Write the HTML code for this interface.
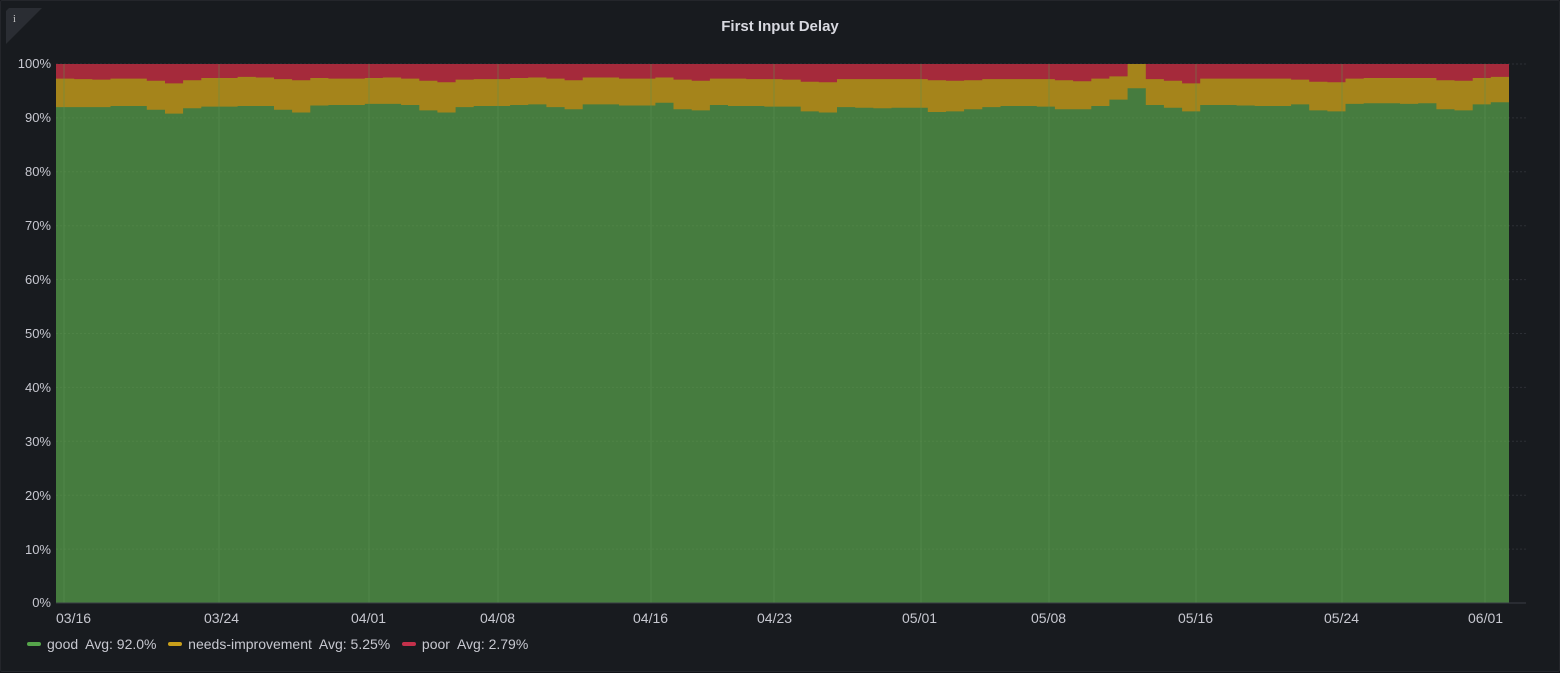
<!DOCTYPE html><html><head><style>
html,body{margin:0;padding:0;background:#111217;}
#p{position:absolute;left:0;top:0;width:1558px;height:670px;background:#181b1f;border:1px solid #24262b;border-radius:2px;font-family:"Liberation Sans",sans-serif;color:#ccccdc;}
.t{position:absolute;top:17px;left:0;width:1558px;text-align:center;font-size:15px;font-weight:bold;color:#d8d9e0;}
.y{position:absolute;left:0;width:50px;text-align:right;font-size:13px;color:#c7c8d0;}
.x{position:absolute;top:609px;font-size:14px;color:#c7c8d0;}
.lg{position:absolute;top:635px;font-size:14px;color:#c7c8d0;white-space:nowrap;}
.sw{display:inline-block;width:14px;height:4px;border-radius:2px;vertical-align:middle;margin-right:6px;margin-top:-2px;}
</style></head><body><div id="p">
<svg style="position:absolute;left:5px;top:7px" width="36" height="36"><path d="M3 0H36L0 36V3Z" fill="#2a2d33"/><text x="7" y="14" font-size="10" fill="#ccc" font-family="Liberation Serif">i</text></svg>
<div class="t">First Input Delay</div>
<svg id="c" style="position:absolute;left:0;top:0" width="1560" height="672"></svg>
<div class="y" style="top:55px">100%</div><div class="y" style="top:109px">90%</div><div class="y" style="top:163px">80%</div><div class="y" style="top:217px">70%</div><div class="y" style="top:271px">60%</div><div class="y" style="top:325px">50%</div><div class="y" style="top:379px">40%</div><div class="y" style="top:433px">30%</div><div class="y" style="top:487px">20%</div><div class="y" style="top:541px">10%</div><div class="y" style="top:594px">0%</div>
<div class="x" style="left:55px">03/16</div><div class="x" style="left:203px">03/24</div><div class="x" style="left:350px">04/01</div><div class="x" style="left:479px">04/08</div><div class="x" style="left:632px">04/16</div><div class="x" style="left:756px">04/23</div><div class="x" style="left:901px">05/01</div><div class="x" style="left:1030px">05/08</div><div class="x" style="left:1177px">05/16</div><div class="x" style="left:1323px">05/24</div><div class="x" style="left:1467px">06/01</div>
<div class="lg" style="left:26px"><span class="sw" style="background:#56a64b"></span>good&nbsp; Avg: 92.0% &nbsp;&nbsp;<span class="sw" style="background:#c9a01b"></span>needs-improvement&nbsp; Avg: 5.25% &nbsp;&nbsp;<span class="sw" style="background:#c4314b"></span>poor&nbsp; Avg: 2.79%</div>
</div>
<script>
var s=document.getElementById('c'),L=55,R=1508,T=63,B=602,h='';
function Y(v){return B-(B-T)*v/100;}
for(var i=0;i<=10;i++){var y=Y(i*10);h+='<line x1="'+L+'" x2="1525" y1="'+y+'" y2="'+y+'" stroke="#2c2f35" stroke-dasharray="2,2"/>';}
var g=[92,92,92,92.2,92.2,91.5,90.8,91.8,92.1,92.1,92.2,92.2,91.5,91,92.3,92.4,92.4,92.6,92.6,92.4,91.4,91,92,92.2,92.2,92.4,92.5,92,91.6,92.5,92.5,92.3,92.3,92.8,91.6,91.4,92.4,92.2,92.2,92.1,92.1,91.2,91,92,91.9,91.8,91.9,91.9,91.1,91.2,91.6,92,92.2,92.2,92.1,91.6,91.6,92.2,93.4,95.5,92.4,91.9,91.2,92.4,92.4,92.3,92.2,92.2,92.5,91.4,91.2,92.6,92.7,92.7,92.6,92.7,91.6,91.4,92.5,92.9];
var yv=[97.3,97.2,97.1,97.3,97.3,96.9,96.4,97,97.4,97.4,97.6,97.5,97.2,97,97.4,97.3,97.3,97.4,97.5,97.3,96.9,96.6,97.1,97.2,97.2,97.4,97.5,97.3,97,97.5,97.5,97.3,97.3,97.5,97.1,96.9,97.3,97.3,97.2,97.2,97.1,96.7,96.6,97.2,97.2,97.2,97.2,97.2,97,96.9,97.0,97.2,97.2,97.2,97.2,97,96.8,97.3,97.7,100,97.2,96.9,96.4,97.3,97.3,97.3,97.3,97.3,97.1,96.7,96.6,97.3,97.4,97.4,97.4,97.4,97,96.9,97.4,97.6];
var n=g.length,w=(R-L)/n;
function path(a){var d='M'+L+' '+B;for(var i=0;i<n;i++){var x0=L+i*w,x1=L+(i+1)*w;d+=' L'+x0.toFixed(1)+' '+Y(a[i]).toFixed(1)+' L'+x1.toFixed(1)+' '+Y(a[i]).toFixed(1);}return d+' L'+R+' '+B+'Z';}
h+='<rect x="'+L+'" y="'+T+'" width="'+(R-L)+'" height="'+(B-T)+'" fill="#a52a3b"/>';
h+='<path d="'+path(yv)+'" fill="#a5841b"/>';
h+='<path d="'+path(g)+'" fill="#467c3f"/>';
var tx=[63,218,368,497,650,773,920,1048,1195,1341,1484];
tx.forEach(function(x){h+='<line x1="'+x+'" x2="'+x+'" y1="'+T+'" y2="'+B+'" stroke="#5a8f52" stroke-opacity="0.5"/>';});
for(var i=1;i<10;i++){var y=Y(i*10);h+='<line x1="'+L+'" x2="'+R+'" y1="'+y+'" y2="'+y+'" stroke="#5a8f52" stroke-opacity="0.4" stroke-dasharray="2,2"/>';}
h+='<line x1="'+L+'" x2="1525" y1="'+B+'" y2="'+B+'" stroke="#3a3d44"/>';
s.innerHTML=h;
</script></body></html>
